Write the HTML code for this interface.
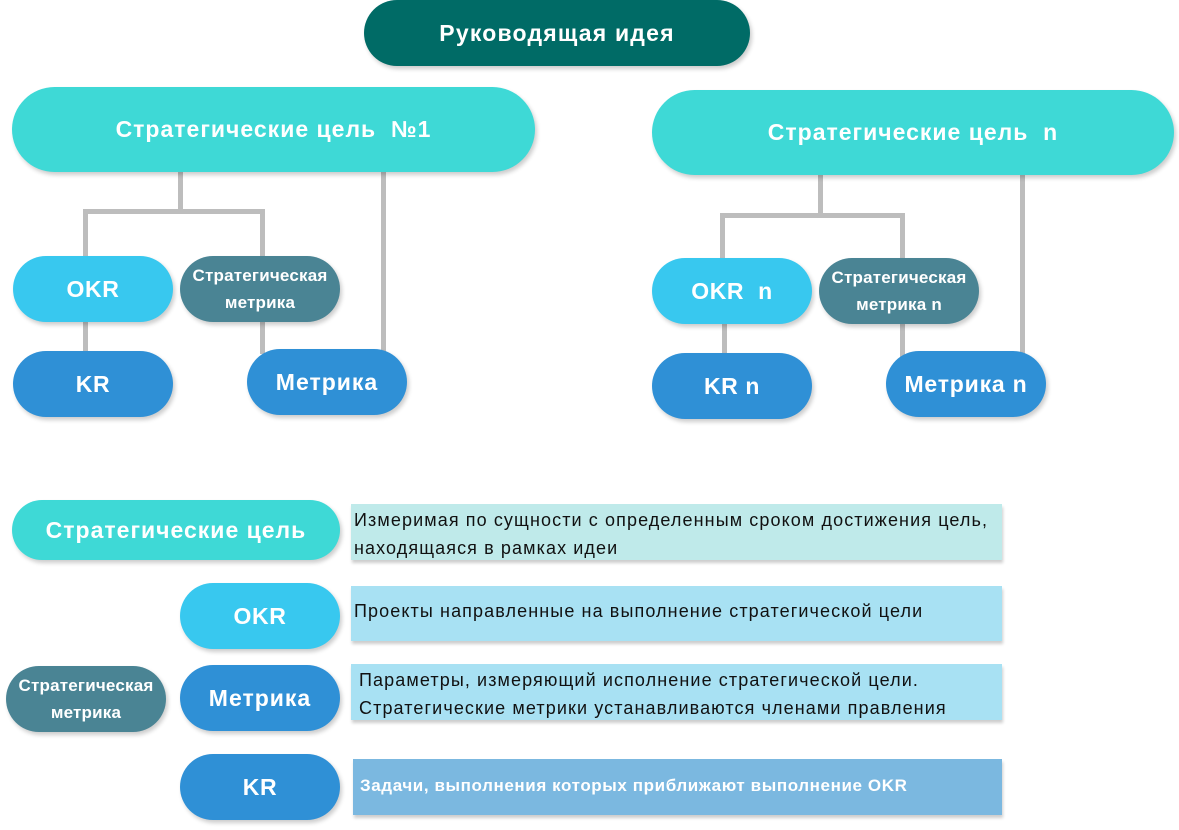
<!DOCTYPE html>
<html><head><meta charset="utf-8"><style>
body{margin:0;width:1179px;height:830px;background:#fff;position:relative;overflow:hidden;font-family:"Liberation Sans","DejaVu Sans",sans-serif}
.p{position:absolute;display:flex;align-items:center;justify-content:center;text-align:center;color:#fff;font-weight:bold;box-shadow:2px 3px 4px rgba(0,0,0,0.2);letter-spacing:0.6px;white-space:nowrap}
.l{position:absolute;background:#bdbdbd}
.b{position:absolute;box-shadow:1px 3px 3px rgba(0,0,0,0.2);font-size:18px;letter-spacing:1.1px;color:#111;box-sizing:border-box;padding-left:3px;white-space:nowrap}
</style></head><body>
<div class="l" style="left:178px;top:165px;width:5px;height:47px"></div>
<div class="l" style="left:83px;top:209px;width:182px;height:5px"></div>
<div class="l" style="left:83px;top:209px;width:5px;height:50px"></div>
<div class="l" style="left:260px;top:209px;width:5px;height:50px"></div>
<div class="l" style="left:381px;top:165px;width:5px;height:188px"></div>
<div class="l" style="left:83px;top:318px;width:5px;height:36px"></div>
<div class="l" style="left:260px;top:318px;width:5px;height:36px"></div>
<div class="l" style="left:818px;top:170px;width:5px;height:47px"></div>
<div class="l" style="left:720px;top:213px;width:185px;height:5px"></div>
<div class="l" style="left:720px;top:213px;width:5px;height:48px"></div>
<div class="l" style="left:900px;top:213px;width:5px;height:48px"></div>
<div class="l" style="left:1020px;top:170px;width:5px;height:185px"></div>
<div class="l" style="left:722px;top:320px;width:5px;height:38px"></div>
<div class="l" style="left:900px;top:320px;width:5px;height:38px"></div>

<div class="p" style="left:364px;top:0;width:386px;height:66px;border-radius:33px;background:#006b66;font-size:23px;letter-spacing:1.2px">Руководящая идея</div>
<div class="p" style="left:12px;top:87px;width:523px;height:85px;border-radius:43px;background:#3ed9d6;font-size:23px;letter-spacing:1px">Стратегические цель&nbsp; №1</div>
<div class="p" style="left:652px;top:90px;width:522px;height:85px;border-radius:43px;background:#3ed9d6;font-size:23px;letter-spacing:1px">Стратегические цель&nbsp; n</div>

<div class="p" style="left:13px;top:256px;width:160px;height:66px;border-radius:33px;background:#38c8ef;font-size:23px">OKR</div>
<div class="p" style="left:180px;top:256px;width:160px;height:66px;border-radius:33px;background:#4a8494;font-size:17px;line-height:27px;letter-spacing:0.2px">Стратегическая<br>метрика</div>
<div class="p" style="left:13px;top:351px;width:160px;height:66px;border-radius:33px;background:#2f90d6;font-size:23px">KR</div>
<div class="p" style="left:247px;top:349px;width:160px;height:66px;border-radius:33px;background:#2f90d6;font-size:23px;letter-spacing:1px">Метрика</div>

<div class="p" style="left:652px;top:258px;width:160px;height:66px;border-radius:33px;background:#38c8ef;font-size:23px">OKR&nbsp; n</div>
<div class="p" style="left:819px;top:258px;width:160px;height:66px;border-radius:33px;background:#4a8494;font-size:17px;line-height:27px;letter-spacing:0.2px">Стратегическая<br>метрика n</div>
<div class="p" style="left:652px;top:353px;width:160px;height:66px;border-radius:33px;background:#2f90d6;font-size:23px">KR n</div>
<div class="p" style="left:886px;top:351px;width:160px;height:66px;border-radius:33px;background:#2f90d6;font-size:23px;letter-spacing:0.8px">Метрика n</div>

<div class="p" style="left:12px;top:500px;width:328px;height:60px;border-radius:30px;background:#3ed9d6;font-size:23px;letter-spacing:1px">Стратегические цель</div>
<div class="p" style="left:180px;top:583px;width:160px;height:66px;border-radius:33px;background:#38c8ef;font-size:23px">OKR</div>
<div class="p" style="left:6px;top:666px;width:160px;height:66px;border-radius:33px;background:#4a8494;font-size:17px;line-height:27px;letter-spacing:0.2px">Стратегическая<br>метрика</div>
<div class="p" style="left:180px;top:665px;width:160px;height:66px;border-radius:33px;background:#2f90d6;font-size:23px;letter-spacing:1px">Метрика</div>
<div class="p" style="left:180px;top:754px;width:160px;height:66px;border-radius:33px;background:#2f90d6;font-size:23px">KR</div>

<div class="b" style="left:351px;top:504px;width:651px;height:56px;background:#bfeaea;padding-top:2px;line-height:28px">Измеримая по сущности с определенным сроком достижения цель,<br>находящаяся в рамках идеи</div>
<div class="b" style="left:351px;top:586px;width:651px;height:55px;background:#a8e1f3;padding-top:11px;line-height:28px">Проекты направленные на выполнение стратегической цели</div>
<div class="b" style="left:351px;top:664px;width:651px;height:56px;background:#a8e1f3;padding-left:8px;padding-top:2px;line-height:28px">Параметры, измеряющий исполнение стратегической цели.<br>Стратегические метрики устанавливаются членами правления</div>
<div class="b" style="left:353px;top:759px;width:649px;height:56px;background:#7bb8e0;color:#fff;font-weight:bold;font-size:17px;letter-spacing:0.6px;padding-left:7px;padding-top:13px;line-height:28px">Задачи, выполнения которых приближают выполнение OKR</div>
</body></html>
